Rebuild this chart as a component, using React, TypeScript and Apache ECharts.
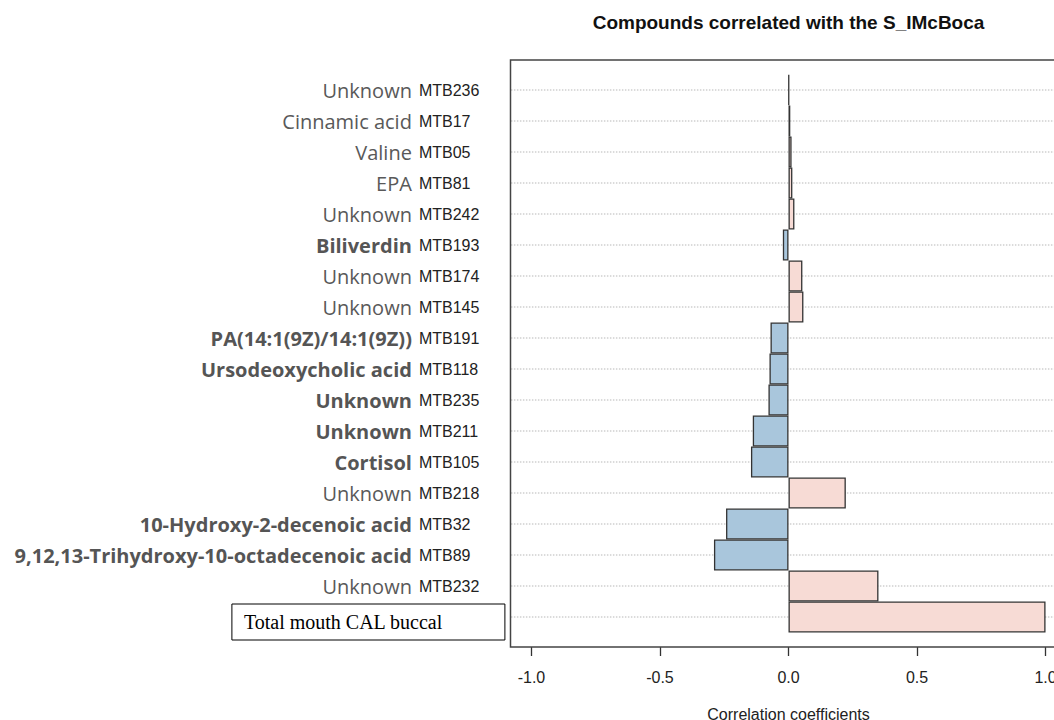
import React, { useEffect, useRef } from 'react';
import * as echarts from 'echarts';

const compoundNames = [
  'Unknown', 'Cinnamic acid', 'Valine', 'EPA', 'Unknown', 'Biliverdin', 'Unknown', 'Unknown',
  'PA(14:1(9Z)/14:1(9Z))', 'Ursodeoxycholic acid', 'Unknown', 'Unknown', 'Cortisol', 'Unknown',
  '10-Hydroxy-2-decenoic acid', '9,12,13-Trihydroxy-10-octadecenoic acid', 'Unknown', 'Total mouth CAL buccal',
];
const compoundCodes = [
  'MTB236', 'MTB17', 'MTB05', 'MTB81', 'MTB242', 'MTB193', 'MTB174', 'MTB145', 'MTB191', 'MTB118',
  'MTB235', 'MTB211', 'MTB105', 'MTB218', 'MTB32', 'MTB89', 'MTB232', '',
];
const boldNames = [
  false, false, false, false, false, true, false, false, true, true, true, true, true, false, true, true, false, false,
];
const correlations = [
  0.002, 0.007, 0.012, 0.015, 0.023, -0.022, 0.054, 0.058, -0.07, -0.074, -0.078, -0.139, -0.146, 0.223,
  -0.243, -0.29, 0.35, 1.0,
];
const xTickValues = [-1, -0.5, 0, 0.5, 1];

const chartTitle = 'Compounds correlated with the S_IMcBoca';
const xAxisTitle = 'Correlation coefficients';

const BLUE = '#a9c6dc';
const PINK = '#f7dbd5';

const categories = compoundNames.map((n, i) => compoundCodes[i] || n);

export default function App() {
  const ref = useRef<HTMLDivElement>(null);

  useEffect(() => {
    if (!ref.current) return;
    const chart = echarts.init(ref.current, null, { renderer: 'svg' });
    const gridLeft = 510.9;
    const gridWidth = 555.2;
    const option: any = {
      animation: false,
      backgroundColor: '#ffffff',
      grid: [
        { left: gridLeft, top: 74.5, width: gridWidth, height: 558, outerBoundsMode: 'none', containLabel: false },
        { left: gridLeft, top: 90, width: gridWidth, height: 527, outerBoundsMode: 'none', containLabel: false },
      ],
      xAxis: [
        {
          gridIndex: 0,
          type: 'value',
          min: -1.08,
          max: 1.08,
          offset: 14.5,
          axisLine: { show: false },
          splitLine: { show: false },
          axisTick: { show: true, length: 9, customValues: xTickValues, lineStyle: { color: '#333', width: 1.3 } },
          axisLabel: {
            customValues: xTickValues,
            margin: 22,
            fontFamily: 'Liberation Sans',
            fontSize: 16,
            color: '#222',
            formatter: (v: number) => v.toFixed(1),
          },
          name: xAxisTitle,
          nameLocation: 'middle',
          nameGap: 59,
          nameTextStyle: { fontFamily: 'Liberation Sans', fontSize: 16, color: '#222' },
        },
        { gridIndex: 1, type: 'value', show: false, min: -1.08, max: 1.08 },
      ],
      yAxis: [
        {
          gridIndex: 0,
          type: 'category',
          inverse: true,
          data: categories,
          axisLine: { show: false },
          axisTick: { show: false },
          splitLine: { show: false },
          axisLabel: {
            interval: 0,
            margin: 6,
            formatter: (value: string) => {
              const i = categories.indexOf(value);
              if (!compoundCodes[i]) {
                return `{pv| }{tot|${compoundNames[i]}}`;
              }
              const st = boldNames[i] ? 'nb' : 'nn';
              return `{${st}|${compoundNames[i]}}{sp| }{cd|${compoundCodes[i]}}`;
            },
            rich: {
              nn: { fontFamily: 'Open Sans', fontSize: 20, color: '#595959', align: 'left' },
              nb: { fontFamily: 'Open Sans', fontSize: 20, fontWeight: 'bold', color: '#555555', align: 'left' },
              sp: { width: 7, fontSize: 16, align: 'left' },
              cd: { fontFamily: 'Liberation Sans', fontSize: 16, color: '#222', width: 86, align: 'left' },
              pv: { width: 1, height: 46, lineHeight: 46, fontSize: 10, align: 'left' },
              tot: {
                fontFamily: 'Liberation Serif',
                fontSize: 20,
                color: '#000',
                borderColor: '#000',
                borderWidth: 1,
                padding: [8, 0, 8, 12],
                width: 261,
                height: 20,
                lineHeight: 36,
                align: 'left',
                verticalAlign: 'bottom',
              },
            },
          },
        },
        {
          gridIndex: 1,
          type: 'category',
          inverse: true,
          boundaryGap: false,
          data: categories,
          axisLine: { show: false },
          axisTick: { show: false },
          axisLabel: { show: false },
          splitLine: {
            show: true,
            interval: 0,
            lineStyle: { color: '#cfcfcf', type: 'dotted', width: 1.5 },
          },
        },
      ],
      series: [
        {
          type: 'bar',
          xAxisIndex: 0,
          yAxisIndex: 0,
          barCategoryGap: '0%',
          data: correlations.map((v) => ({
            value: v,
            itemStyle: { color: v >= 0 ? PINK : BLUE },
          })),
          itemStyle: { borderColor: '#333', borderWidth: 1.3 },
          emphasis: { disabled: true },
        },
      ],
      graphic: [
        {
          type: 'rect',
          shape: { x: 510.5, y: 60, width: 700, height: 587 },
          style: { fill: 'none', stroke: '#444', lineWidth: 1.5 },
          z: 100,
          silent: true,
        },
        {
          type: 'text',
          x: 788.5,
          y: 22,
          style: {
            text: chartTitle,
            align: 'center',
            verticalAlign: 'middle',
            fontFamily: 'Liberation Sans',
            fontSize: 19,
            fontWeight: 'bold',
            fill: '#111',
          },
        },
      ],
    };
    chart.setOption(option);
    return () => chart.dispose();
  }, []);

  return (
    <div
      ref={ref}
      style={{ position: 'fixed', left: 0, top: 0, width: 1054, height: 720, background: '#fff' }}
    />
  );
}
